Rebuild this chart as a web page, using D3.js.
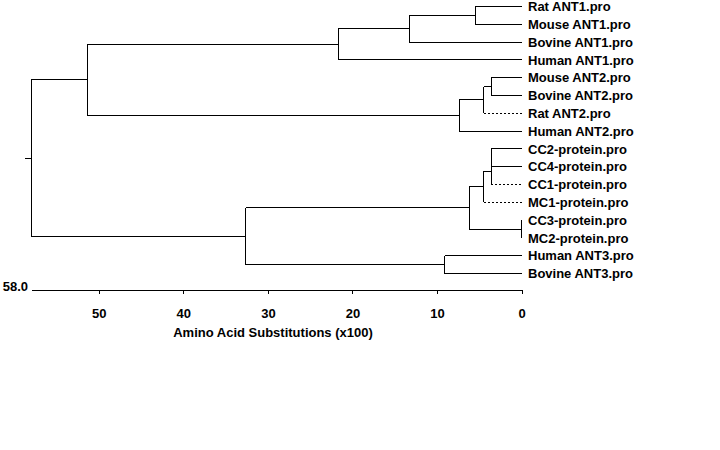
<!DOCTYPE html>
<html>
<head>
<meta charset="utf-8">
<script src="https://cdn.jsdelivr.net/npm/d3@7/dist/d3.min.js"></script>
<style>
  html, body { margin: 0; padding: 0; background: #fff; }
  svg { display: block; }
  text { font-family: "Liberation Sans", Arial, sans-serif; font-weight: bold; font-size: 13px; fill: #000; }
</style>
</head>
<body>
<svg id="chart" width="720" height="450"></svg>
<script>
// ---- data ----
const leafNames = [
  "Rat ANT1.pro", "Mouse ANT1.pro", "Bovine ANT1.pro", "Human ANT1.pro",
  "Mouse ANT2.pro", "Bovine ANT2.pro", "Rat ANT2.pro", "Human ANT2.pro",
  "CC2-protein.pro", "CC4-protein.pro", "CC1-protein.pro", "MC1-protein.pro",
  "CC3-protein.pro", "MC2-protein.pro", "Human ANT3.pro", "Bovine ANT3.pro"
];
// leaves drawn with a dotted branch
const dottedLeaves = ["Rat ANT2.pro", "CC1-protein.pro", "MC1-protein.pro"];
// merges: [new node id, left child, right child, node height (x100 substitutions)]
const merges = [
  ["n1", "Rat ANT1.pro", "Mouse ANT1.pro", 5.5],
  ["n2", "n1", "Bovine ANT1.pro", 13.3],
  ["n3", "n2", "Human ANT1.pro", 21.7],
  ["n4", "Mouse ANT2.pro", "Bovine ANT2.pro", 3.6],
  ["n5", "n4", "Rat ANT2.pro", 4.5],
  ["n6", "n5", "Human ANT2.pro", 7.4],
  ["n7", "n3", "n6", 51.3],
  ["n8", "CC2-protein.pro", "CC4-protein.pro", 3.6],
  ["n9", "n8", "CC1-protein.pro", 3.6],
  ["n10", "n9", "MC1-protein.pro", 4.5],
  ["n11", "CC3-protein.pro", "MC2-protein.pro", 0.0],
  ["n12", "n10", "n11", 6.2],
  ["n13", "Human ANT3.pro", "Bovine ANT3.pro", 9.1],
  ["n14", "n12", "n13", 32.6],
  ["root", "n7", "n14", 58.0]
];
const tickValues = [50, 40, 30, 20, 10, 0];
const maxLabel = "58.0";
const axisTitle = "Amino Acid Substitutions (x100)";

// ---- build tree ----
const nodes = {};
leafNames.forEach(n => nodes[n] = { name: n, height: 0, children: null });
merges.forEach(([id, a, b, h]) => { nodes[id] = { name: id, height: h, children: [nodes[a], nodes[b]] }; });
const root = d3.hierarchy(nodes["root"]);

const svg = d3.select("#chart");
const x = d3.scaleLinear().domain([58, 0]).range([31, 521.7]);
const y = d3.scalePoint().domain(leafNames).range([6.5, 273.5]);

// compute y positions
root.eachAfter(d => {
  if (!d.children) d.py = y(d.data.name);
  else d.py = (d.children[0].py + d.children[d.children.length - 1].py) / 2;
});

const g = svg.append("g").attr("fill", "none").attr("stroke", "#000").attr("stroke-width", 1)
  .attr("shape-rendering", "crispEdges");

// vertical connectors
root.descendants().filter(d => d.children).forEach(d => {
  g.append("line")
    .attr("x1", x(d.data.height)).attr("x2", x(d.data.height))
    .attr("y1", d.children[0].py).attr("y2", d.children[d.children.length - 1].py);
});
// horizontal branches
root.descendants().filter(d => d.parent).forEach(d => {
  const ln = g.append("line")
    .attr("x1", x(d.parent.data.height)).attr("x2", x(d.data.height))
    .attr("y1", d.py).attr("y2", d.py);
  if (!d.children && dottedLeaves.includes(d.data.name)) ln.attr("stroke-dasharray", "2,2");
});
// root stub
g.append("line").attr("x1", x(58) - 6).attr("x2", x(58)).attr("y1", root.py).attr("y2", root.py);

// leaf labels
svg.append("g").selectAll("text").data(root.leaves()).join("text")
  .attr("x", 528).attr("y", d => d.py).attr("dy", "0.36em")
  .text(d => d.data.name);

// axis
const axis = d3.axisBottom(x).tickValues(tickValues).tickSize(4).tickSizeOuter(0).tickPadding(15)
  .tickFormat(d3.format("d"));
const ag = svg.append("g").attr("transform", "translate(0,290)").call(axis);
ag.selectAll("path, line").attr("stroke", "#000").attr("shape-rendering", "crispEdges");
ag.selectAll("text").attr("font-family", null).attr("font-size", null).style("font-weight", "bold").style("font-size", "13px")
  .style("font-family", "'Liberation Sans', Arial, sans-serif");

svg.append("text").attr("x", 28).attr("y", 291).attr("text-anchor", "end").text(maxLabel);
svg.append("text").attr("x", 273).attr("y", 337).attr("text-anchor", "middle").text(axisTitle);
</script>
</body>
</html>
